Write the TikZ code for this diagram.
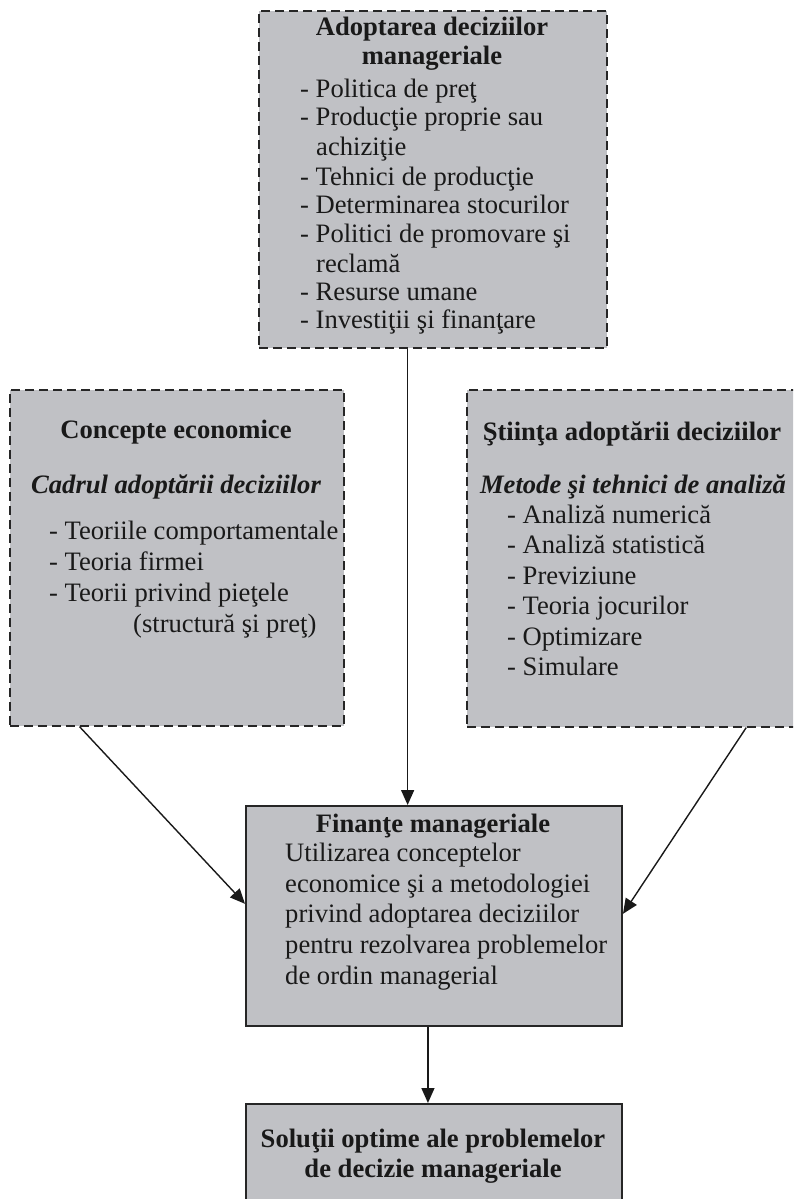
\documentclass[tikz,border=0pt]{standalone}
\usepackage{fontspec}
\setmainfont{Liberation Serif}
\usetikzlibrary{arrows.meta,calc}
\newcommand\bodyfont{\fontsize{26.6}{31}\selectfont}
\begin{document}
\begin{tikzpicture}[x=1pt, y=-1pt,
  dashbox/.style={draw=black!85, fill=boxgray, dash pattern=on 9pt off 5pt, line width=1.6pt, inner sep=0pt, anchor=north west},
  solidbox/.style={draw=black!85, fill=boxgray, line width=2pt, inner sep=0pt, anchor=north west},
  txt/.style={inner sep=0pt, anchor=base west, text=black!90, font=\bodyfont},
  ttl/.style={inner sep=0pt, anchor=base, text=black!90, font=\bodyfont\bfseries},
  sub/.style={inner sep=0pt, anchor=base, text=black!90, font=\bodyfont\bfseries\itshape},
  link/.style={draw=black!90, line width=1.4pt, -{Triangle[length=15pt, width=13pt]}}]
\definecolor{boxgray}{RGB}{192,193,197}
\clip (0,0) rectangle (793,1199);
\node[dashbox, minimum width=348pt, minimum height=337pt] (adopt) at (258,10) {};
\node[dashbox, minimum width=334pt, minimum height=336pt] (concepte) at (9,389) {};
\node[dashbox, minimum width=334pt, minimum height=337pt] (stiinta) at (466,389) {};
\node[solidbox, minimum width=376pt, minimum height=220pt] (fin) at (245,805) {};
\node[solidbox, minimum width=376pt, minimum height=140pt] (sol) at (245,1103) {};
\node[ttl] (adopt1) at (432,36) {Adoptarea deciziilor};
\node[ttl] (adopt2) at (432,65) {manageriale};
\node[txt] (adopt3) at (300,97) {- Politica de preţ};
\node[txt] (adopt4) at (300,125) {- Producţie proprie sau};
\node[txt] (adopt5) at (316,155) {achiziţie};
\node[txt] (adopt6) at (300,185) {- Tehnici de producţie};
\node[txt] (adopt7) at (300,213) {- Determinarea stocurilor};
\node[txt] (adopt8) at (300,242) {- Politici de promovare şi};
\node[txt] (adopt9) at (316,272) {reclamă};
\node[txt] (adopt10) at (300,300) {- Resurse umane};
\node[txt] (adopt11) at (300,328) {- Investiţii şi finanţare};
\node[ttl] (concepte1) at (176,438) {Concepte economice};
\node[sub] (concepte2) at (176,493) {Cadrul adoptării deciziilor};
\node[txt] (concepte3) at (49,539) {- Teoriile comportamentale};
\node[txt] (concepte4) at (49,570) {- Teoria firmei};
\node[txt] (concepte5) at (49,601) {- Teorii privind pieţele};
\node[txt] (concepte6) at (133,632) {(structură şi preţ)};
\node[ttl] (stiinta1) at (632,440) {Ştiinţa adoptării deciziilor};
\node[sub] (stiinta2) at (633,493) {Metode şi tehnici de analiză};
\node[txt] (stiinta3) at (507,523) {- Analiză numerică};
\node[txt] (stiinta4) at (507,553) {- Analiză statistică};
\node[txt] (stiinta5) at (507,584) {- Previziune};
\node[txt] (stiinta6) at (507,614) {- Teoria jocurilor};
\node[txt] (stiinta7) at (507,645) {- Optimizare};
\node[txt] (stiinta8) at (507,675) {- Simulare};
\node[ttl] (fin1) at (433,832) {Finanţe manageriale};
\node[txt] (fin2) at (285,861) {Utilizarea conceptelor};
\node[txt] (fin3) at (285,892) {economice şi a metodologiei};
\node[txt] (fin4) at (285,922) {privind adoptarea deciziilor};
\node[txt] (fin5) at (285,953) {pentru rezolvarea problemelor};
\node[txt] (fin6) at (285,984) {de ordin managerial};
\node[ttl] (sol1) at (433,1147) {Soluţii optime ale problemelor};
\node[ttl] (sol2) at (433,1177) {de decizie manageriale};
\coordinate (adoptout) at ($(adopt.south west)!0.428!(adopt.south east)$);
\coordinate (concepteout) at ($(concepte.south west)!0.21!(concepte.south east)$);
\coordinate (stiintaout) at ($(stiinta.south west)!0.835!(stiinta.south east)$);
\coordinate (finleft) at ($(fin.north west)!0.445!(fin.south west)$);
\coordinate (finright) at ($(fin.north east)!0.49!(fin.south east)$);
\draw[link] (adoptout) -- (adoptout |- fin.north);
\draw[link] (concepteout) -- (finleft);
\draw[link] (stiintaout) -- (finright);
\draw[link] ($(fin.south west)!0.484!(fin.south east)$) -- ($(sol.north west)!0.484!(sol.north east)$);
\end{tikzpicture}
\end{document}
